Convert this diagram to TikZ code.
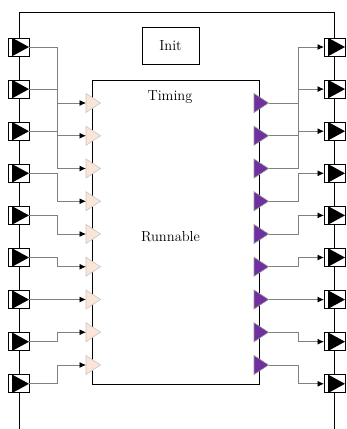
\documentclass[tikz,border=0pt]{standalone}
\usetikzlibrary{positioning,arrows.meta,shapes.geometric}
\usepackage{xcolor}
\definecolor{inpeach}{HTML}{FBE5D6}
\definecolor{outpurple}{HTML}{7030A0}

\begin{document}
\begin{tikzpicture}[
  x=1pt, y=-1pt,
  >=Latex,
  font=\fontsize{14.5}{17}\selectfont,
  block/.style={
    rectangle,
    draw=black,
    line width=0.9pt,
    inner sep=0pt,
    outer sep=0pt,
    fill=white
  },
  port/.style={
    rectangle,
    draw=black,
    line width=0.9pt,
    fill=white,
    minimum width=21pt,
    minimum height=18pt,
    inner sep=0pt,
    outer sep=0pt,
    path picture={
      \fill[black] ([xshift=4.5pt]path picture bounding box.north west)
        -- (path picture bounding box.east)
        -- ([xshift=4.5pt]path picture bounding box.south west) -- cycle;
      \draw[black, line width=0.9pt] ([xshift=4pt]path picture bounding box.north west)
        -- ([xshift=4pt]path picture bounding box.south west);
    }
  },
  inport/.style={
    isosceles triangle,
    isosceles triangle stretches,
    shape border rotate=0,
    minimum width=19pt,
    minimum height=14.5pt,
    inner sep=0pt,
    outer sep=0pt,
    fill=inpeach,
    draw=gray!45,
    line width=0.6pt,
    anchor=west
  },
  outport/.style={
    inport,
    fill=outpurple,
    draw=gray!80
  },
  caption/.style={
    inner sep=0pt,
    align=center
  },
  conn/.style={-{Latex[length=6.5pt,width=6pt,color=black]},draw=black!50,line width=0.8pt}
]

\useasboundingbox (0,0) rectangle (346,429);

% enclosing component
\draw[line width=0.9pt] (19,430) -- (19,12) -- (334,12) -- (334,430);

\node[block, minimum width=57pt, minimum height=37pt] (init) at (170.5,45.5) {Init};
\node[block, minimum width=167pt, minimum height=304pt] (runnable) at (175.5,232) {};
\node[caption] (timing) at (170,97.5) {Timing};
\node[caption] (runtext) at (170.5,237) {Runnable};

\coordinate (lbend) at (57.5,0);
\coordinate (rbend) at (298,0);

% left ports
\node[port] (lp1) at (18.5,47) {};
\node[port, below=24.1pt of lp1] (lp2) {};
\node[port, below=24.1pt of lp2] (lp3) {};
\node[port, below=24.1pt of lp3] (lp4) {};
\node[port, below=24.1pt of lp4] (lp5) {};
\node[port, below=24.1pt of lp5] (lp6) {};
\node[port, below=24.1pt of lp6] (lp7) {};
\node[port, below=24.1pt of lp7] (lp8) {};
\node[port, below=24.1pt of lp8] (lp9) {};

% right ports
\node[port] (rp1) at (334.5,47) {};
\node[port, below=24.1pt of rp1] (rp2) {};
\node[port, below=24.1pt of rp2] (rp3) {};
\node[port, below=24.1pt of rp3] (rp4) {};
\node[port, below=24.1pt of rp4] (rp5) {};
\node[port, below=24.1pt of rp5] (rp6) {};
\node[port, below=24.1pt of rp6] (rp7) {};
\node[port, below=24.1pt of rp7] (rp8) {};
\node[port, below=24.1pt of rp8] (rp9) {};

% runnable inputs
\node[inport] (lt1) at (86,103) {};
\node[inport] (lt2) at ([yshift=-32.75pt]lt1.west) {};
\node[inport] (lt3) at ([yshift=-32.75pt]lt2.west) {};
\node[inport] (lt4) at ([yshift=-32.75pt]lt3.west) {};
\node[inport] (lt5) at ([yshift=-32.75pt]lt4.west) {};
\node[inport] (lt6) at ([yshift=-32.75pt]lt5.west) {};
\node[inport] (lt7) at ([yshift=-32.75pt]lt6.west) {};
\node[inport] (lt8) at ([yshift=-32.75pt]lt7.west) {};
\node[inport] (lt9) at ([yshift=-32.75pt]lt8.west) {};

% runnable outputs
\node[outport] (rt1) at (254,103) {};
\node[outport] (rt2) at ([yshift=-32.75pt]rt1.west) {};
\node[outport] (rt3) at ([yshift=-32.75pt]rt2.west) {};
\node[outport] (rt4) at ([yshift=-32.75pt]rt3.west) {};
\node[outport] (rt5) at ([yshift=-32.75pt]rt4.west) {};
\node[outport] (rt6) at ([yshift=-32.75pt]rt5.west) {};
\node[outport] (rt7) at ([yshift=-32.75pt]rt6.west) {};
\node[outport] (rt8) at ([yshift=-32.75pt]rt7.west) {};
\node[outport] (rt9) at ([yshift=-32.75pt]rt8.west) {};

\draw[conn] (lp1.east) -- (lp1.east -| lbend) |- (lt1.west);
\draw[conn] (lp2.east) -- (lp2.east -| lbend) |- (lt2.west);
\draw[conn] (lp3.east) -- (lp3.east -| lbend) |- (lt3.west);
\draw[conn] (lp4.east) -- (lp4.east -| lbend) |- (lt4.west);
\draw[conn] (lp5.east) -- (lp5.east -| lbend) |- (lt5.west);
\draw[conn] (lp6.east) -- (lp6.east -| lbend) |- (lt6.west);
\draw[conn] (lp7.east) -- (lp7.east -| lbend) |- (lt7.west);
\draw[conn] (lp8.east) -- (lp8.east -| lbend) |- (lt8.west);
\draw[conn] (lp9.east) -- (lp9.east -| lbend) |- (lt9.west);

\draw[conn] (rt1.east) -- (rt1.east -| rbend) |- (rp1.west);
\draw[conn] (rt2.east) -- (rt2.east -| rbend) |- (rp2.west);
\draw[conn] (rt3.east) -- (rt3.east -| rbend) |- (rp3.west);
\draw[conn] (rt4.east) -- (rt4.east -| rbend) |- (rp4.west);
\draw[conn] (rt5.east) -- (rt5.east -| rbend) |- (rp5.west);
\draw[conn] (rt6.east) -- (rt6.east -| rbend) |- (rp6.west);
\draw[conn] (rt7.east) -- (rt7.east -| rbend) |- (rp7.west);
\draw[conn] (rt8.east) -- (rt8.east -| rbend) |- (rp8.west);
\draw[conn] (rt9.east) -- (rt9.east -| rbend) |- (rp9.west);

\end{tikzpicture}
\end{document}
